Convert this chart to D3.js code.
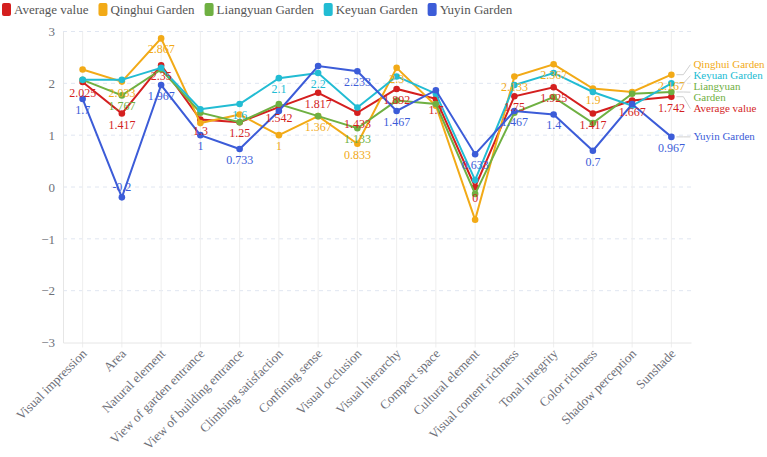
<!DOCTYPE html>
<html><head><meta charset="utf-8">
<script src="https://cdn.jsdelivr.net/npm/d3@7/dist/d3.min.js"></script>
<style>
html,body{margin:0;padding:0;background:#fff;}
svg{display:block;font-family:"Liberation Serif","Times New Roman",serif;}
</style></head>
<body><svg id="c" width="767" height="457"></svg>
<script>
const categories = ["Visual impression","Area","Natural element","View of garden entrance","View of building entrance","Climbing satisfaction","Confining sense","Visual occlusion","Visual hierarchy","Compact space","Cultural element","Visual content richness","Tonal integrity","Color richness","Shadow perception","Sunshade"];
const seriesNames = ["Average value","Qinghui Garden","Liangyuan Garden","Keyuan Garden","Yuyin Garden"];
const averageValue = [2.025,1.417,2.35,1.3,1.25,1.542,1.817,1.433,1.892,1.7,0,1.75,1.925,1.417,1.667,1.742];
const qinghui      = [2.267,2.033,2.867,1.233,1.4,1,1.367,0.833,2.3,1.567,-0.633,2.133,2.367,1.9,1.833,2.167];
const liangyuan    = [2.067,1.767,2.267,1.433,1.25,1.6,1.367,1.133,1.667,1.6,-0.133,1.433,1.733,1.233,1.8,1.833];
const keyuan       = [2.067,2.067,2.3,1.5,1.6,2.1,2.2,1.533,2.133,1.8,0.133,1.967,2.2,1.833,1.567,2.0];
const yuyin        = [1.7,-0.2,1.967,1,0.733,1.467,2.333,2.233,1.467,1.867,0.633,1.467,1.4,0.7,1.6,0.967];
// which point labels are visible (others hidden by overlap)
const labelsAverage   = [1,1,1,1,1,1,1,1,1,1,1,1,1,1,1,1];
const labelsQinghui   = [0,1,1,0,0,1,1,1,1,0,0,1,1,1,0,1];
const labelsLiangyuan = [0,1,0,0,0,0,0,1,0,0,0,0,0,0,0,0];
const labelsKeyuan    = [0,0,0,0,1,1,1,0,0,0,0,0,0,0,0,0];
const labelsYuyin     = [1,1,1,1,1,0,0,1,1,0,1,1,1,1,0,1];
const yTicks = [-3,-2,-1,0,1,2,3];
const colors = ["#d41f1f","#f2aa17","#6fb042","#22bcd3","#3c5cd8"];

const series = [
  {name:seriesNames[0], values:averageValue, labels:labelsAverage, color:colors[0]},
  {name:seriesNames[1], values:qinghui, labels:labelsQinghui, color:colors[1]},
  {name:seriesNames[2], values:liangyuan, labels:labelsLiangyuan, color:colors[2]},
  {name:seriesNames[3], values:keyuan, labels:labelsKeyuan, color:colors[3]},
  {name:seriesNames[4], values:yuyin, labels:labelsYuyin, color:colors[4]}
];

const svg = d3.select("#c");
const pLeft = 63, pRight = 691, pTop = 31.5, pBottom = 342.5;
const x = d3.scaleBand().domain(categories).range([pLeft,pRight]).padding(0);
const cx = c => x(c) + x.bandwidth()/2;
const y = d3.scaleLinear().domain([-3,3]).range([pBottom,pTop]);
const axisColor = "#6e7079";

// grid
const g = svg.append("g");
g.selectAll("line.h").data(yTicks.filter(t=>t!==-3)).join("line")
  .attr("x1",pLeft).attr("x2",pRight).attr("y1",d=>y(d)).attr("y2",d=>y(d))
  .attr("stroke","#e0e6f1").attr("stroke-dasharray","4,4");
g.selectAll("line.v").data(categories).join("line")
  .attr("x1",d=>cx(d)).attr("x2",d=>cx(d)).attr("y1",pTop).attr("y2",pBottom+5)
  .attr("stroke","#eeeeee");

// y axis
const yAxis = d3.axisLeft(y).tickValues(yTicks).tickSize(0).tickPadding(8).tickFormat(d3.format("d"));
const ya = svg.append("g").attr("transform",`translate(${pLeft},0)`).call(yAxis);
ya.select(".domain").attr("stroke","#e6e6e6");
ya.selectAll("text").attr("fill",axisColor).style("font-size","13px").style("font-family","Liberation Serif, serif");

// x axis
const xAxis = d3.axisBottom(x).tickSize(0).tickFormat("");
const xa = svg.append("g").attr("transform",`translate(0,${pBottom})`).call(xAxis);
xa.select(".domain").attr("stroke","#e6e6e6");
svg.append("g").selectAll("text").data(categories).join("text")
  .attr("transform",d=>`translate(${cx(d)+5},${pBottom+12}) rotate(-45)`)
  .attr("text-anchor","end").attr("fill",axisColor).style("font-size","13px").text(d=>d);

// lines and points
const line = d3.line().x((d,i)=>cx(categories[i])).y(d=>y(d));
series.forEach(s=>{
  const sg = svg.append("g");
  sg.append("path").attr("d",line(s.values)).attr("fill","none").attr("stroke",s.color).attr("stroke-width",2);
  sg.selectAll("circle").data(s.values).join("circle")
    .attr("cx",(d,i)=>cx(categories[i])).attr("cy",d=>y(d)).attr("r",3.3).attr("fill",s.color);
});

// point labels
const fmt = v => String(v);
series.forEach(s=>{
  svg.append("g").selectAll("text").data(s.values.map((v,i)=>({v,i})).filter(d=>s.labels[d.i]))
    .join("text")
    .attr("x",d=>cx(categories[d.i])).attr("y",d=>d.v<0 ? y(d.v)-6 : y(d.v)+15)
    .attr("text-anchor","middle").attr("fill",s.color).style("font-size","12px")
    .text(d=>fmt(d.v));
});

// end labels with simple collision resolution
const last = categories.length-1;
const lx = cx(categories[last]);
const items = series.map(s=>{
  const lines = s.name.length>15 ? s.name.split(" ") : [s.name];
  return {s, py:y(s.values[last]), lines, h:lines.length*11};
}).sort((a,b)=>a.py-b.py);
let clusters = items.map(it=>({items:[it]}));
function layoutCluster(c){
  const H = d3.sum(c.items,d=>d.h);
  const mean = d3.mean(c.items,d=>d.py);
  let t = mean - H/2;
  c.top = t; c.bot = t+H;
  c.items.forEach(it=>{it.top=t; t+=it.h;});
}
clusters.forEach(layoutCluster);
let merged=true;
while(merged){
  merged=false;
  for(let i=0;i<clusters.length-1;i++){
    if(clusters[i].bot>clusters[i+1].top){
      clusters[i].items=clusters[i].items.concat(clusters[i+1].items);
      clusters.splice(i+1,1);
      layoutCluster(clusters[i]);
      merged=true;break;
    }
  }
}
const eg = svg.append("g");
items.forEach(it=>{
  const cyy = it.top + it.h/2;
  eg.append("path").attr("d",`M${lx+5},${it.py}L${lx+12},${it.py}L${lx+19},${cyy}`)
    .attr("fill","none").attr("stroke","#d0d0d0").attr("stroke-width",1);
  const t = eg.append("text").attr("x",lx+22).attr("fill",it.s.color).style("font-size","11px");
  it.lines.forEach((l,k)=>{
    t.append("tspan").attr("x",lx+22).attr("y",it.top+k*11+8.5).text(l);
  });
});

// legend
const lg = svg.append("g");
let lxp = 2;
series.forEach(s=>{
  lg.append("rect").attr("x",lxp).attr("y",3).attr("width",9).attr("height",13).attr("rx",2).attr("fill",s.color);
  const t = lg.append("text").attr("x",lxp+12).attr("y",14).attr("fill","#555").style("font-size","13px").text(s.name);
  lxp += 12 + t.node().getComputedTextLength() + 10;
});
</script></body></html>
